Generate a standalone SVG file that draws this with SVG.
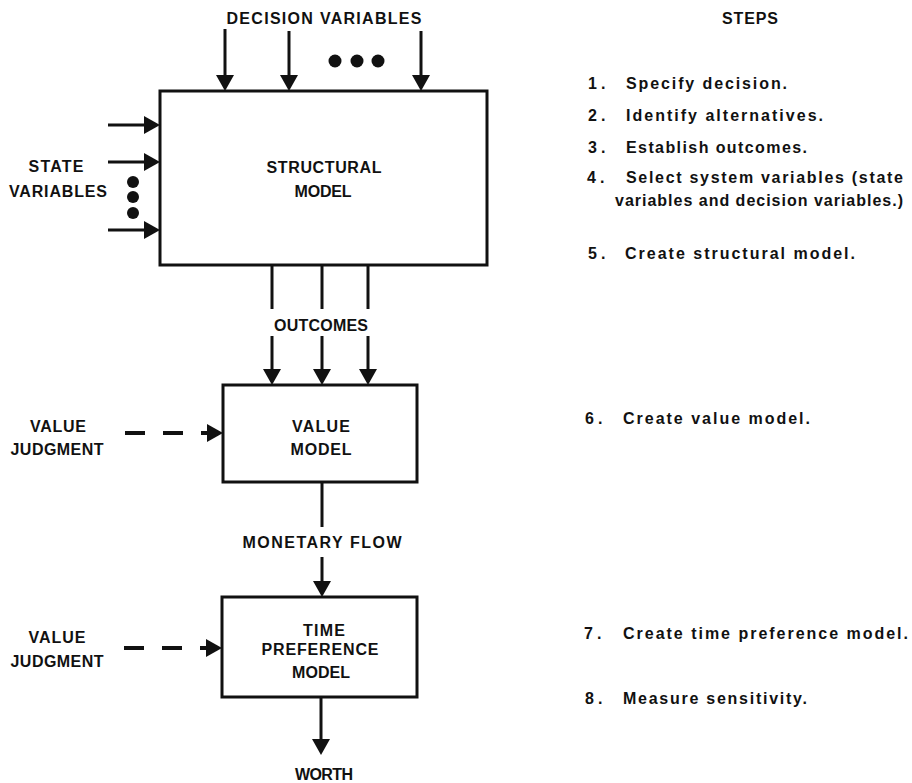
<svg xmlns="http://www.w3.org/2000/svg" width="912" height="783" viewBox="0 0 912 783">
<style>
  text { font-family: "Liberation Sans", Arial, sans-serif; font-weight: bold; fill: #111; }
  .lbl { font-size: 16px; text-anchor: middle; }
  .step { font-size: 16px; }
  .num { font-size: 16px; letter-spacing: 4px; }
  .box { fill: #fff; stroke: #111; stroke-width: 3; }
  .ln { stroke: #111; stroke-width: 3; fill: none; }
  .dash { stroke: #111; stroke-width: 4; fill: none; stroke-dasharray: 20 18; }
  .dot { fill: #111; }
</style>
<defs>
  <marker id="ah" markerUnits="userSpaceOnUse" markerWidth="16" markerHeight="18" refX="0" refY="9" orient="auto" overflow="visible">
    <path d="M0,0 L16,9 L0,18 z" fill="#111"/>
  </marker>
</defs>
<rect width="912" height="783" fill="#fff"/>

<g id="structural-model">
  <rect class="box" x="160" y="91" width="327" height="174"/>
  <text class="lbl" x="324" y="173" textLength="115" lengthAdjust="spacing">STRUCTURAL</text>
  <text class="lbl" x="323" y="197" textLength="57" lengthAdjust="spacing">MODEL</text>
</g>
<g id="value-model">
  <rect class="box" x="223" y="385" width="194" height="97"/>
  <text class="lbl" x="321" y="432" textLength="58" lengthAdjust="spacing">VALUE</text>
  <text class="lbl" x="321" y="455" textLength="61" lengthAdjust="spacing">MODEL</text>
</g>
<g id="time-preference-model">
  <rect class="box" x="222" y="597" width="195" height="100"/>
  <text class="lbl" x="324" y="636" textLength="42" lengthAdjust="spacing">TIME</text>
  <text class="lbl" x="320" y="655" textLength="117" lengthAdjust="spacing">PREFERENCE</text>
  <text class="lbl" x="321" y="678" textLength="58" lengthAdjust="spacing">MODEL</text>
</g>
<g id="decision-variables">
  <text class="lbl" x="324" y="24" textLength="195" lengthAdjust="spacing">DECISION VARIABLES</text>
  <circle class="dot" cx="335" cy="61" r="6.5"/>
  <circle class="dot" cx="357" cy="61" r="6.5"/>
  <circle class="dot" cx="378" cy="61" r="6.5"/>
</g>
<g id="state-variables">
  <text class="lbl" x="56" y="172" textLength="55" lengthAdjust="spacing">STATE</text>
  <text class="lbl" x="58" y="197" textLength="98" lengthAdjust="spacing">VARIABLES</text>
  <circle class="dot" cx="133" cy="182" r="6"/>
  <circle class="dot" cx="133" cy="197" r="6"/>
  <circle class="dot" cx="133" cy="213" r="6"/>
</g>
<g id="outcomes">
  <text class="lbl" x="321" y="331" textLength="94" lengthAdjust="spacing">OUTCOMES</text>
</g>
<g id="value-judgment-1">
  <text class="lbl" x="58" y="432" textLength="56" lengthAdjust="spacing">VALUE</text>
  <text class="lbl" x="57" y="455" textLength="93" lengthAdjust="spacing">JUDGMENT</text>
</g>
<g id="monetary-flow">
  <text class="lbl" x="322" y="548" textLength="159" lengthAdjust="spacing">MONETARY FLOW</text>
</g>
<g id="value-judgment-2">
  <text class="lbl" x="57" y="643" textLength="57" lengthAdjust="spacing">VALUE</text>
  <text class="lbl" x="57" y="667" textLength="93" lengthAdjust="spacing">JUDGMENT</text>
</g>
<g id="worth">
  <text class="lbl" x="324" y="780" textLength="58" lengthAdjust="spacing">WORTH</text>
</g>

<g id="connectors">
  <line class="ln" x1="225" y1="29" x2="225" y2="75" marker-end="url(#ah)"/>
  <line class="ln" x1="289" y1="31" x2="289" y2="75" marker-end="url(#ah)"/>
  <line class="ln" x1="421" y1="31" x2="421" y2="75" marker-end="url(#ah)"/>
  <line class="ln" x1="108" y1="125" x2="144" y2="125" marker-end="url(#ah)"/>
  <line class="ln" x1="108" y1="162" x2="144" y2="162" marker-end="url(#ah)"/>
  <line class="ln" x1="108" y1="230" x2="144" y2="230" marker-end="url(#ah)"/>
  <line class="ln" x1="272" y1="265" x2="272" y2="309"/>
  <line class="ln" x1="322" y1="265" x2="322" y2="309"/>
  <line class="ln" x1="368" y1="265" x2="368" y2="309"/>
  <line class="ln" x1="272" y1="336" x2="272" y2="369" marker-end="url(#ah)"/>
  <line class="ln" x1="322" y1="336" x2="322" y2="369" marker-end="url(#ah)"/>
  <line class="ln" x1="368" y1="336" x2="368" y2="369" marker-end="url(#ah)"/>
  <line class="dash" x1="125" y1="433" x2="207" y2="433" marker-end="url(#ah)"/>
  <line class="ln" x1="322" y1="482" x2="322" y2="527"/>
  <line class="ln" x1="322" y1="557" x2="322" y2="581" marker-end="url(#ah)"/>
  <line class="dash" x1="124" y1="648" x2="206" y2="648" marker-end="url(#ah)"/>
  <line class="ln" x1="321" y1="697" x2="321" y2="739" marker-end="url(#ah)"/>
</g>

<g id="steps">
  <text class="lbl" x="750" y="24" textLength="56" lengthAdjust="spacing">STEPS</text>
  <text class="num" x="588" y="89">1.</text>
  <text class="step" x="626" y="89" textLength="161" lengthAdjust="spacing">Specify decision.</text>
  <text class="num" x="588" y="121">2.</text>
  <text class="step" x="626" y="121" textLength="197" lengthAdjust="spacing">Identify alternatives.</text>
  <text class="num" x="588" y="153">3.</text>
  <text class="step" x="626" y="153" textLength="181" lengthAdjust="spacing">Establish outcomes.</text>
  <text class="num" x="587" y="183">4.</text>
  <text class="step" x="626" y="183" textLength="277" lengthAdjust="spacing">Select system variables (state</text>
  <text class="step" x="615" y="206" textLength="288" lengthAdjust="spacing">variables and decision variables.)</text>
  <text class="num" x="588" y="259">5.</text>
  <text class="step" x="625" y="259" textLength="230" lengthAdjust="spacing">Create structural model.</text>
  <text class="num" x="585" y="424">6.</text>
  <text class="step" x="623" y="424" textLength="187" lengthAdjust="spacing">Create value model.</text>
  <text class="num" x="584" y="639">7.</text>
  <text class="step" x="623" y="639" textLength="285" lengthAdjust="spacing">Create time preference model.</text>
  <text class="num" x="585" y="704">8.</text>
  <text class="step" x="623" y="704" textLength="184" lengthAdjust="spacing">Measure sensitivity.</text>
</g>
</svg>
